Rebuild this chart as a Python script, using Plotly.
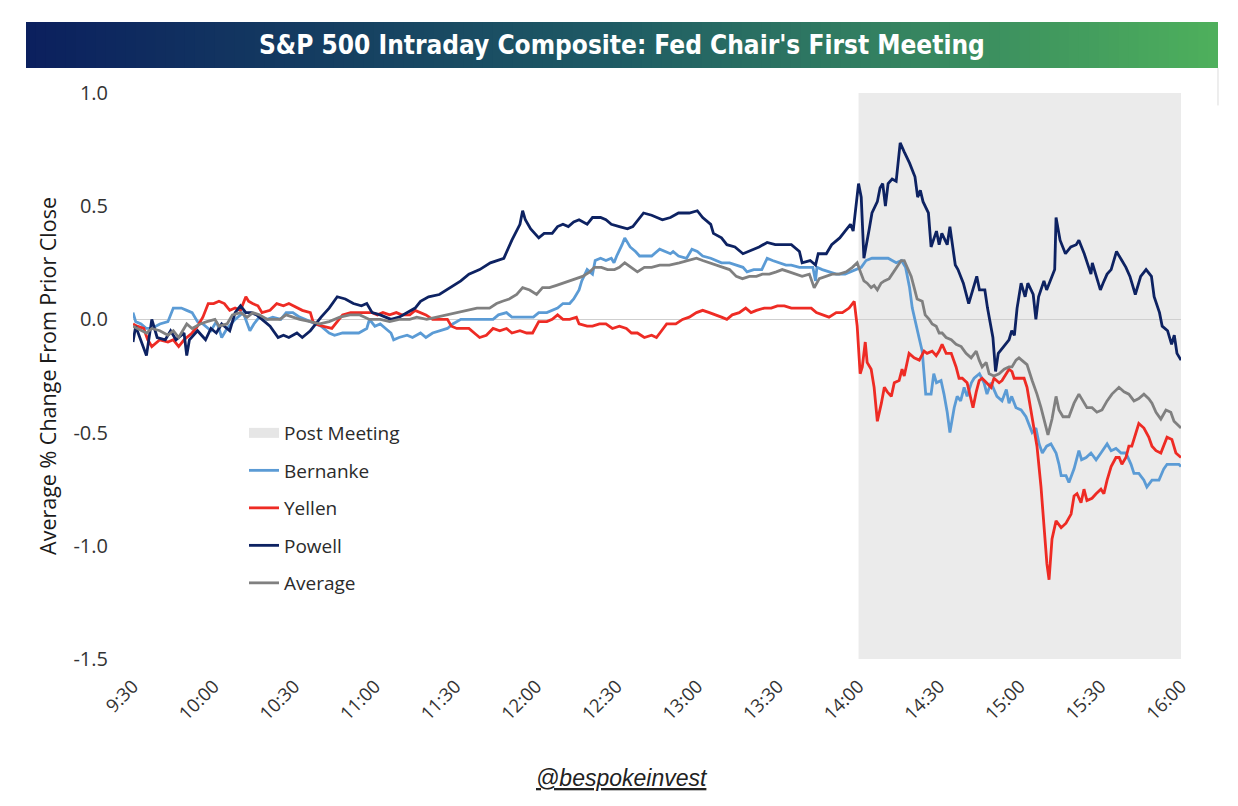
import plotly.graph_objects as go

# ---------------- data (minutes after 9:30, % change) ----------------
TICK_MINUTES = [0, 30, 60, 90, 120, 150, 180, 210, 240, 270, 300, 330, 360, 390]
TICK_LABELS = ["9:30", "10:00", "10:30", "11:00", "11:30", "12:00", "12:30",
               "13:00", "13:30", "14:00", "14:30", "15:00", "15:30", "16:00"]
Y_TICKS = [1.0, 0.5, 0.0, -0.5, -1.0, -1.5]
Y_TICK_LABELS = ["1.0", "0.5", "0.0", "-0.5", "-1.0", "-1.5"]
POST_MEETING_START = 270
POST_MEETING_END = 390

BERNANKE = [(0,0.03),(1,-0.01),(3,-0.02),(5,-0.04),(7,-0.04),(10,-0.02),(13,-0.01),(15,0.05),(16,0.05),(18,0.05),
            (20,0.04),(22,0.03),(24,-0.01),(26,-0.02),(29,-0.05),(31,-0.01),(32,-0.04),(33,-0.08),(35,-0.04),(38,0.00),
            (41,0.03),(42,0.00),(43.5,-0.05),(45,-0.02),(47,0.01),(50,0.00),(52,0.01),(55,0.00),(57,0.03),(59.5,0.03),
            (62,0.01),(66,-0.01),(70,-0.03),(73,-0.06),(75,-0.07),(78,-0.06),(82,-0.06),(84,-0.06),(87,-0.04),(88,0.00),
            (90,-0.03),(92,-0.02),(94,-0.04),(96,-0.06),(97,-0.09),(99,-0.08),(102,-0.07),(104,-0.08),(107,-0.06),(109,-0.08),
            (111.5,-0.06),(114,-0.05),(117,-0.04),(119,-0.02),(122,0.00),(125,0.00),(129,0.00),(134,0.00),(136,0.02),(139,0.03),
            (141,0.01),(145,0.01),(149,0.01),(151,0.03),(154,0.03),(158,0.05),(160,0.07),(162.5,0.07),(164,0.09),(166,0.13),
            (167,0.17),(169,0.22),(171,0.20),(172,0.26),(174,0.27),(176,0.26),(178,0.27),(179,0.25),(180,0.28),(182,0.33),
            (183,0.36),(185,0.32),(187,0.30),(188.5,0.28),(191,0.28),(193,0.28),(196,0.31),(198,0.30),(200,0.29),(201,0.30),
            (203,0.28),(206,0.27),(208,0.31),(210,0.30),(212,0.28),(215,0.27),(217,0.26),(219,0.25),(222,0.25),(224.5,0.24),
            (227,0.23),(228.5,0.21),(231,0.22),(234,0.22),(236,0.27),(238,0.26),(240.5,0.25),(243,0.24),(245,0.24),(248,0.23),
            (250.5,0.23),(253,0.23),(254,0.17),(254.5,0.23),(256.5,0.22),(259,0.21),(261.7,0.20),(265,0.20),(269,0.22),(271,0.23),
            (272.8,0.26),(275,0.27),(279,0.27),(281,0.27),(284,0.25),(286,0.26),(287.5,0.23),(289,0.14),(290,0.05),(291.5,-0.02),
            (292.5,-0.08),(293.7,-0.14),(294.4,-0.24),(295,-0.33),(297,-0.33),(298,-0.24),(299,-0.28),(300.7,-0.27),(301.8,-0.33),(303,-0.41),
            (304,-0.50),(305.6,-0.39),(306.7,-0.34),(308,-0.36),(309.3,-0.30),(310.4,-0.34),(312,-0.28),(313,-0.26),(315,-0.24),(316.7,-0.28),
            (317.8,-0.33),(319.3,-0.28),(320.4,-0.31),(321.5,-0.34),(323.4,-0.36),(325,-0.31),(326,-0.37),(327,-0.34),(328.6,-0.39),(330.5,-0.40),
            (332.3,-0.43),(333.5,-0.47),(334.6,-0.50),(336,-0.48),(337.2,-0.55),(338.4,-0.59),(340,-0.56),(341.6,-0.55),(343.5,-0.59),(344.6,-0.64),
            (345.4,-0.69),(347.2,-0.69),(348.3,-0.72),(350.2,-0.66),(352,-0.58),(353,-0.62),(354.7,-0.61),(356.5,-0.59),(358.4,-0.62),(360.2,-0.59),
            (362.5,-0.55),(364,-0.58),(365.8,-0.57),(367.7,-0.59),(369.5,-0.59),(371.4,-0.64),(372.5,-0.68),(374.3,-0.68),(376.2,-0.71),(377.3,-0.74),
            (379.2,-0.71),(381.8,-0.71),(383.6,-0.66),(384.8,-0.64),(387.4,-0.64),(389.2,-0.64),(390,-0.65)]

YELLEN = [(0,-0.02),(1.5,-0.03),(4,-0.04),(5.5,-0.09),(7,-0.12),(10,-0.09),(13,-0.10),(15,-0.09),(17,-0.12),(19,-0.09),
          (22,-0.06),(24,-0.03),(26,0.01),(28,0.07),(30,0.07),(32,0.08),(34,0.07),(36,0.04),(38,0.05),(40,0.04),
          (42,0.10),(43,0.08),(44.5,0.07),(46.5,0.06),(48,0.03),(51,0.04),(53.5,0.07),(56,0.06),(58,0.07),(61,0.05),
          (63,0.04),(66,0.03),(67,-0.01),(68,-0.02),(70.5,-0.03),(74,-0.04),(76,-0.01),(78,0.02),(81,0.03),(84.5,0.03),
          (87,0.03),(89,0.03),(91,0.02),(93,0.03),(95.5,0.02),(98,0.03),(100,0.02),(103,0.02),(105,0.04),(107,0.03),
          (109,0.02),(111.5,0.00),(114,0.00),(117,0.00),(118.5,-0.03),(120.5,-0.04),(122.5,-0.04),(125,-0.04),(127,-0.06),(129,-0.08),
          (131.5,-0.07),(134,-0.04),(136.5,-0.05),(139,-0.04),(141,-0.06),(144,-0.05),(146.5,-0.06),(148.7,-0.06),(151,-0.01),(154,-0.01),
          (156,0.00),(158,0.02),(160,0.00),(162.5,0.00),(165,0.01),(166,-0.02),(169,-0.03),(171,-0.03),(173.6,-0.02),(176,-0.02),
          (178.4,-0.04),(181,-0.03),(183.6,-0.04),(185.5,-0.06),(187.7,-0.06),(190.3,-0.08),(193,-0.07),(194.8,-0.08),(196.7,-0.05),(198.6,-0.02),
          (200.4,-0.02),(202,-0.02),(204.5,0.00),(207,0.01),(209.7,0.03),(212,0.04),(214.5,0.03),(217,0.02),(219,0.01),(221,0.00),
          (223,0.02),(225.6,0.03),(228,0.05),(230,0.03),(232,0.04),(234.9,0.05),(237.5,0.05),(239.8,0.06),(242.4,0.06),(245,0.05),
          (247.2,0.05),(249.8,0.05),(252.4,0.05),(254.3,0.03),(256.5,0.02),(259,0.01),(261.7,0.03),(264,0.03),(266.5,0.05),(267.7,0.07),
          (268.4,0.08),(269.5,-0.03),(270.6,-0.24),(271.4,-0.21),(272.5,-0.10),(273.2,-0.19),(274.7,-0.22),(275.8,-0.30),(277,-0.45),(278.5,-0.37),
          (279.6,-0.30),(280.7,-0.32),(282.2,-0.34),(283.3,-0.28),(285.1,-0.27),(286.2,-0.22),(287,-0.25),(288.8,-0.15),(290.7,-0.17),(292.6,-0.18),
          (294.4,-0.14),(295.5,-0.15),(297.4,-0.14),(298.9,-0.16),(300,-0.14),(301.1,-0.11),(302.6,-0.15),(304.5,-0.15),(306.3,-0.21),(307.4,-0.26),
          (308.6,-0.26),(310.4,-0.28),(311.9,-0.36),(312.6,-0.39),(313.8,-0.32),(314.9,-0.27),(316,-0.26),(317.5,-0.28),(319.3,-0.30),(320.4,-0.26),
          (322.3,-0.28),(323.4,-0.27),(325,-0.24),(326,-0.22),(327.1,-0.23),(327.9,-0.26),(329.7,-0.26),(331.6,-0.26),(332.7,-0.30),(334.2,-0.40),
          (335.3,-0.47),(336.4,-0.56),(337.9,-0.74),(339,-0.92),(340.1,-1.08),(340.9,-1.15),(342,-0.97),(343.5,-0.89),(345.4,-0.92),(347.2,-0.90),
          (349.1,-0.86),(350.2,-0.78),(351.3,-0.77),(352.8,-0.81),(353.9,-0.75),(355,-0.80),(356.9,-0.79),(358.4,-0.77),(360.2,-0.75),(361.3,-0.77),
          (362.5,-0.71),(364,-0.65),(365.8,-0.61),(367,-0.61),(368,-0.64),(369.5,-0.61),(370.6,-0.56),(371.7,-0.56),(373.2,-0.50),(374.3,-0.46),
          (376.2,-0.48),(378,-0.52),(379.2,-0.56),(380.7,-0.58),(382.5,-0.59),(383.6,-0.56),(384.8,-0.52),(386.6,-0.53),(388.1,-0.59),(390,-0.61)]

POWELL = [(0,-0.10),(1,-0.03),(5,-0.16),(7,0.00),(9,-0.08),(12,-0.09),(14,-0.05),(16,-0.09),(19,-0.06),(20,-0.16),
          (21,-0.09),(24,-0.05),(27,-0.09),(29,-0.04),(31,-0.06),(33,-0.02),(36,-0.05),(38,0.03),(40,0.06),(42,0.03),
          (44,0.03),(46,0.02),(48,0.00),(51,-0.03),(54,-0.08),(56,-0.07),(58,-0.08),(61,-0.06),(63,-0.08),(66,-0.05),
          (70,0.01),(73,0.05),(76,0.10),(79,0.09),(82,0.07),(85,0.06),(87,0.07),(89,0.03),(92,0.02),(96,0.00),
          (99,0.01),(102,0.03),(105,0.05),(107,0.08),(110,0.10),(114,0.11),(118,0.14),(122,0.17),(125,0.20),(129,0.22),
          (133,0.25),(136,0.26),(138,0.27),(141,0.35),(144,0.42),(145,0.48),(146,0.44),(148,0.40),(151,0.36),(153,0.38),
          (156,0.38),(158,0.41),(160,0.42),(162,0.41),(164,0.43),(166,0.44),(169,0.42),(171,0.45),(174,0.45),(176,0.44),
          (178,0.42),(181,0.41),(184,0.40),(186,0.41),(188,0.44),(190,0.47),(193,0.46),(197,0.44),(200,0.45),(203,0.47),
          (207,0.47),(210,0.48),(212,0.45),(215,0.42),(216,0.38),(219,0.36),(221,0.33),(224,0.32),(227,0.29),(229,0.30),
          (233,0.32),(236,0.34),(239,0.33),(243,0.33),(245,0.33),(248,0.30),(249,0.25),(252,0.26),(254,0.24),(255,0.29),
          (258,0.29),(260,0.33),(263,0.36),(265,0.39),(267,0.42),(268,0.39),(270,0.60),(271,0.54),(272,0.27),(274,0.40),
          (275,0.47),(277,0.52),(278,0.58),(279,0.60),(280,0.50),(281,0.60),(282.5,0.62),(284,0.61),(285.5,0.78),(287,0.74),
          (289,0.69),(291,0.63),(292,0.54),(293,0.57),(294,0.52),(296,0.47),(297,0.32),(299,0.39),(300,0.33),(301,0.38),
          (303,0.33),(304,0.41),(306,0.24),(307,0.22),(309,0.16),(311,0.07),(312,0.11),(314,0.19),(315,0.13),(317,0.13),
          (318,0.05),(320,-0.08),(321,-0.23),(322,-0.15),(324,-0.12),(326,-0.09),(327,-0.05),(328,-0.07),(329,0.05),(330.5,0.16),
          (332,0.10),(333,0.16),(335,0.11),(336,0.00),(337,0.10),(339,0.17),(340,0.13),(342,0.19),(343,0.22),(343.5,0.45),
          (345,0.35),(347,0.29),(349,0.32),(351,0.33),(352,0.35),(354,0.29),(355,0.25),(356.5,0.20),(357,0.25),(359,0.17),
          (360,0.13),(361,0.16),(362.5,0.20),(364,0.22),(366,0.30),(368,0.26),(369.5,0.23),(371,0.19),(373,0.11),(375,0.19),
          (377,0.22),(379,0.19),(380,0.10),(382,0.03),(383,-0.03),(385,-0.05),(386.5,-0.11),(387.5,-0.07),(388.5,-0.15),(390,-0.18)]

AVERAGE = [(0,-0.03),(3,-0.05),(5,-0.06),(7,-0.04),(10,-0.05),(13,-0.07),(15,-0.05),(17,-0.08),(20,-0.02),(22,-0.04),
           (25,-0.02),(27.5,-0.01),(30.5,0.00),(32,-0.03),(35,-0.02),(37,0.02),(40,0.03),(42.5,0.01),(44.6,0.03),(47,0.02),
           (50,0.00),(52,0.00),(54.6,0.00),(57,0.02),(59.5,0.01),(62,0.00),(66,-0.01),(69.5,-0.02),(73,-0.01),(77,0.01),
           (80.7,0.02),(84.4,0.02),(88,0.00),(92,0.00),(95.5,-0.01),(99,0.00),(103,0.00),(105.6,0.01),(109.3,0.00),(113,0.01),
           (116.7,0.02),(120.4,0.03),(124,0.04),(128,0.05),(132.7,0.05),(135.3,0.07),(137.5,0.08),(140,0.09),(142.8,0.11),(145,0.14),
           (147.6,0.13),(150.2,0.11),(152.4,0.14),(155,0.14),(157.6,0.15),(160,0.16),(162.5,0.17),(165,0.18),(167.3,0.19),(170,0.21),
           (171.7,0.23),(174.3,0.23),(176.6,0.22),(179.2,0.22),(181,0.23),(183,0.25),(185.5,0.23),(187.7,0.21),(190.3,0.23),(193,0.23),
           (196,0.24),(199.6,0.24),(203.3,0.25),(207,0.26),(209.7,0.27),(212,0.26),(214.5,0.25),(217,0.24),(219,0.23),(222,0.22),
           (224.5,0.19),(226.8,0.18),(229.4,0.19),(232,0.19),(234.2,0.20),(236.8,0.20),(239.4,0.21),(241.6,0.22),(244.2,0.21),(246.8,0.20),
           (249,0.19),(251.7,0.20),(253.5,0.14),(255.4,0.18),(258,0.19),(260.2,0.20),(262.8,0.20),(265.4,0.21),(267.7,0.23),(269.5,0.25),
           (271,0.20),(272,0.17),(273.2,0.16),(274.7,0.14),(275.8,0.15),(277,0.13),(278.4,0.16),(279.6,0.17),(281.4,0.18),(282.5,0.20),
           (284.4,0.23),(285.9,0.26),(287,0.26),(288.1,0.23),(289.6,0.19),(290.7,0.14),(291.8,0.09),(293.7,0.08),(294.8,0.02),(296.3,0.00),
           (297.4,-0.02),(298.9,-0.03),(300,-0.06),(301.1,-0.06),(302.6,-0.08),(304.5,-0.09),(306.3,-0.11),(308.2,-0.12),(310,-0.15),(311.9,-0.17),
           (313.8,-0.14),(314.9,-0.18),(316,-0.21),(317.5,-0.19),(318.6,-0.24),(320.4,-0.25),(322.3,-0.24),(324.2,-0.22),(326,-0.21),(327.1,-0.21),
           (328.6,-0.18),(329.7,-0.17),(331.6,-0.19),(332.7,-0.20),(334.6,-0.27),(336.4,-0.33),(337.9,-0.39),(339,-0.44),(340.5,-0.51),(342,-0.44),
           (343.5,-0.34),(344.6,-0.40),(346.1,-0.43),(348.3,-0.43),(350.2,-0.37),(352,-0.33),(353.9,-0.37),(355,-0.39),(356.9,-0.39),(358.7,-0.41),
           (360.6,-0.40),(362.5,-0.36),(364.3,-0.33),(366.9,-0.30),(368.8,-0.32),(370.6,-0.33),(372.5,-0.36),(374.3,-0.35),(376.2,-0.33),(378,-0.35),
           (379.2,-0.37),(380.7,-0.41),(382.5,-0.44),(384.4,-0.40),(386.2,-0.41),(387.4,-0.45),(390,-0.48)]

# ---------------- styling ----------------
FONT = "'Open Sans', Lato, sans-serif"
TITLE_FONT = "'Liberation Sans Narrow', 'DejaVu Sans Condensed', 'Arial Narrow', sans-serif"
TEXT_COLOR = "#2b2b2b"

series = [
    ("Bernanke", BERNANKE, "#5b9bd5"),
    ("Yellen", YELLEN, "#ee2b24"),
    ("Powell", POWELL, "#0d2262"),
    ("Average", AVERAGE, "#808080"),
]

fig = go.Figure()

# legend-only entry for the shaded post-meeting window
fig.add_trace(go.Scatter(
    x=[None], y=[None], mode="lines", name="Post Meeting",
    line=dict(color="#e6e6e6", width=14), legendgroup="pm", hoverinfo="skip"))

for name, pts, color in series:
    xs = [p[0] for p in pts]
    ys = [p[1] for p in pts]
    fig.add_trace(go.Scatter(
        x=xs, y=ys, mode="lines", name=name, legendgroup=name,
        line=dict(color=color, width=2.8)))

shapes = [
    dict(type="rect", xref="x", yref="y", x0=POST_MEETING_START, x1=POST_MEETING_END,
         y0=Y_TICKS[-1], y1=Y_TICKS[0], fillcolor="#ebebeb", line=dict(width=0), layer="below"),
]

# gradient title banner (paper coordinates)
bx0, bx1 = -0.1021, 1.0353
by0, by1 = 1.0442, 1.1254
stops = [(0.0, (11, 31, 94)), (0.5, (31, 92, 100)), (1.0, (78, 176, 92))]


def lerp_color(f):
    for (f0, c0), (f1, c1) in zip(stops[:-1], stops[1:]):
        if f0 <= f <= f1:
            t = (f - f0) / (f1 - f0)
            return "rgb(%d,%d,%d)" % tuple(round(a + (b - a) * t) for a, b in zip(c0, c1))
    return "rgb(%d,%d,%d)" % stops[-1][1]


N = 120
w = (bx1 - bx0) / N
for i in range(N):
    shapes.append(dict(type="rect", xref="paper", yref="paper",
                       x0=bx0 + i * w, x1=bx0 + (i + 1) * w + (w * 0.6 if i < N - 1 else 0),
                       y0=by0, y1=by1, fillcolor=lerp_color((i + 0.5) / N),
                       line=dict(width=0), layer="above"))

# thin vertical edge line at right of banner
shapes.append(dict(type="line", xref="paper", yref="paper", x0=bx1, x1=bx1,
                   y0=by0, y1=0.978, line=dict(color="#dcdcdc", width=1)))

annotations = [
    dict(text="<b>S&P 500 Intraday Composite: Fed Chair's First Meeting</b>",
         xref="paper", yref="paper", x=(bx0 + bx1) / 2, y=(by0 + by1) / 2,
         xanchor="center", yanchor="middle", showarrow=False,
         font=dict(family=TITLE_FONT, size=26, color="white")),
    dict(text="Average % Change From Prior Close", xref="paper", yref="paper",
         x=-0.0821, y=0.5, xanchor="center", yanchor="middle", textangle=-90,
         showarrow=False, font=dict(family=FONT, size=21.5, color="#1a1a1a")),
    dict(text="<i><u>@bespokeinvest</u></i>", xref="paper", yref="paper",
         x=(622 - 133) / 1048, y=(659 - 778) / 566, xanchor="center", yanchor="middle",
         showarrow=False, font=dict(family="'Liberation Sans', Arial, sans-serif", size=23, color="#222222")),
]

fig.update_layout(
    width=1238, height=806,
    margin=dict(l=133, r=57, t=93, b=147, pad=0),
    paper_bgcolor="white", plot_bgcolor="white",
    font=dict(family=FONT, color=TEXT_COLOR),
    shapes=shapes, annotations=annotations,
    showlegend=True,
    legend=dict(x=(244 - 133) / 1048, y=(659 - 414) / 566, xanchor="left", yanchor="top",
                bgcolor="rgba(0,0,0,0)", font=dict(family=FONT, size=19, color=TEXT_COLOR),
                tracegroupgap=9.8, traceorder="grouped"),
    xaxis=dict(range=[0, 390], tickmode="array", tickvals=TICK_MINUTES, ticktext=TICK_LABELS,
               tickangle=-45, showgrid=False, zeroline=False, showline=False, ticks="",
               tickfont=dict(family=FONT, size=18.5, color="#333333"), ticklabelstandoff=12,
               fixedrange=True),
    yaxis=dict(range=[-1.5, 1.0], tickmode="array", tickvals=Y_TICKS, ticktext=Y_TICK_LABELS,
               showgrid=False, zeroline=True, zerolinecolor="#cfcfcf", zerolinewidth=1,
               showline=False, ticks="", tickfont=dict(family=FONT, size=20, color="#333333"),
               ticklabelstandoff=24, fixedrange=True),
)

fig.write_html("out.html")
